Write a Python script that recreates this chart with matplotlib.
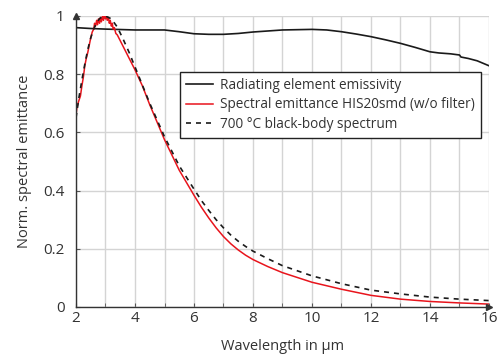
import matplotlib
matplotlib.use('Agg')
import matplotlib.pyplot as plt
from matplotlib.ticker import MultipleLocator

plt.rcParams['font.family'] = ['Open Sans', 'DejaVu Sans']

# --- data ---
emis_x = [2.0, 2.5, 3.0, 4.0, 5.0, 5.5, 6.0, 6.5, 7.0, 7.5, 8.0, 9.0, 10.0, 10.5, 11.0,
          11.5, 12.0, 12.5, 13.0, 13.5, 14.0, 14.3, 14.7, 15.0, 15.05, 15.3, 15.6, 16.0]
emis_y = [0.960, 0.957, 0.955, 0.952, 0.952, 0.946, 0.939, 0.937, 0.937, 0.940, 0.945, 0.952,
          0.954, 0.952, 0.946, 0.938, 0.929, 0.918, 0.906, 0.892, 0.877, 0.873, 0.870,
          0.866, 0.859, 0.854, 0.846, 0.829]

his_x = [2.0, 2.03, 2.07, 2.1, 2.15, 2.2, 2.25, 2.3, 2.35, 2.4, 2.45, 2.5, 2.55, 2.6, 2.63,
         2.66, 2.7, 2.73, 2.76, 2.8, 2.83, 2.86, 2.9, 2.93, 2.96, 3.0, 3.03, 3.06, 3.1, 3.13,
         3.16, 3.2, 3.23, 3.26, 3.3, 3.35, 3.4, 3.5, 3.6, 3.8, 4.0, 4.25, 4.5, 4.75, 5.0, 5.5,
         6.0, 6.25, 6.5, 6.75, 7.0, 7.25, 7.5, 7.75, 8.0, 8.5, 9.0, 10.0, 11.0, 12.0, 13.0,
         14.0, 15.0, 16.0]
his_y = [0.660, 0.685, 0.700, 0.710, 0.725, 0.760, 0.790, 0.830, 0.855, 0.875, 0.900, 0.925,
         0.945, 0.955, 0.975, 0.965, 0.985, 0.970, 0.990, 0.975, 0.995, 0.980, 1.000, 0.985,
         1.000, 0.990, 1.000, 0.985, 0.995, 0.975, 0.985, 0.965, 0.975, 0.955, 0.960, 0.940,
         0.935, 0.915, 0.895, 0.855, 0.815, 0.760, 0.695, 0.635, 0.575, 0.470, 0.384, 0.343,
         0.306, 0.272, 0.242, 0.217, 0.196, 0.178, 0.163, 0.139, 0.118, 0.085, 0.061, 0.040,
         0.027, 0.019, 0.014, 0.010]

bb_x = [2.0, 2.1, 2.2, 2.3, 2.4, 2.5, 2.6, 2.7, 2.8, 2.9, 3.0, 3.2, 3.4, 3.6, 3.8, 4.0, 4.5,
        5.0, 5.5, 6.0, 6.25, 6.5, 6.75, 7.0, 7.25, 7.5, 7.75, 8.0, 8.5, 9.0, 10.0, 11.0, 12.0,
        13.0, 14.0, 15.0, 16.0]
bb_y = [0.650, 0.720, 0.780, 0.835, 0.885, 0.925, 0.955, 0.977, 0.991, 0.998, 1.000, 0.990,
        0.962, 0.920, 0.875, 0.825, 0.700, 0.585, 0.485, 0.405, 0.366, 0.332, 0.300, 0.272,
        0.247, 0.226, 0.208, 0.192, 0.166, 0.142, 0.107, 0.080, 0.058, 0.045, 0.034, 0.027,
        0.022]

labels = ["Radiating element emissivity",
          "Spectral emittance HIS20smd (w/o filter)",
          "700 °C black-body spectrum"]

txt = '#333333'

fig = plt.figure(figsize=(5.02, 3.56), dpi=100)
ax = fig.add_axes([76 / 502, 49 / 356, 413 / 502, 291 / 356])

ax.plot(emis_x, emis_y, color='#1a1a1a', lw=1.2, label=labels[0])
ax.plot(his_x, his_y, color='#e8141c', lw=1.1, label=labels[1])
ax.plot(bb_x, bb_y, color='#1a1a1a', lw=1.2, ls=(0, (3, 3)), label=labels[2])

ax.set_xlim(2, 16)
ax.set_ylim(0, 1)
ax.xaxis.set_major_locator(MultipleLocator(2))
ax.xaxis.set_minor_locator(MultipleLocator(1))
ax.set_yticks([0, 0.2, 0.4, 0.6, 0.8, 1])
ax.set_yticklabels(['0', '0.2', '0.4', '0.6', '0.8', '1'])
ax.grid(True, which='both', color='#d4d4d4', lw=1)
ax.set_axisbelow(True)

for s in ['top', 'right']:
    ax.spines[s].set_visible(False)
for s in ['left', 'bottom']:
    ax.spines[s].set_color('#333333')
    ax.spines[s].set_linewidth(1)

ax.tick_params(which='both', direction='in', length=3, color='#555555',
               labelsize=11, labelcolor=txt)
ax.tick_params(axis='y', pad=8)
ax.tick_params(axis='x', pad=3)

# small arrow heads on the axes
ax.plot([0], [1], marker='^', ms=4, color='#333333', transform=ax.transAxes, clip_on=False)
ax.plot([1], [0], marker='>', ms=4, color='#333333', transform=ax.transAxes, clip_on=False)

ax.set_xlabel("Wavelength in µm", fontsize=10.5, color=txt, labelpad=9)
ax.set_ylabel("Norm. spectral emittance", fontsize=10.5, color=txt, labelpad=8)

leg = ax.legend(loc='upper left', bbox_to_anchor=(0.252, 0.808), fontsize=9.8,
                fancybox=False, framealpha=1, edgecolor='#222222',
                handlelength=2.0, handletextpad=0.5, labelspacing=0.33,
                borderpad=0.45, borderaxespad=0)
leg.get_frame().set_linewidth(1)
for t in leg.get_texts():
    t.set_color(txt)

fig.savefig('out.png', dpi=100)
